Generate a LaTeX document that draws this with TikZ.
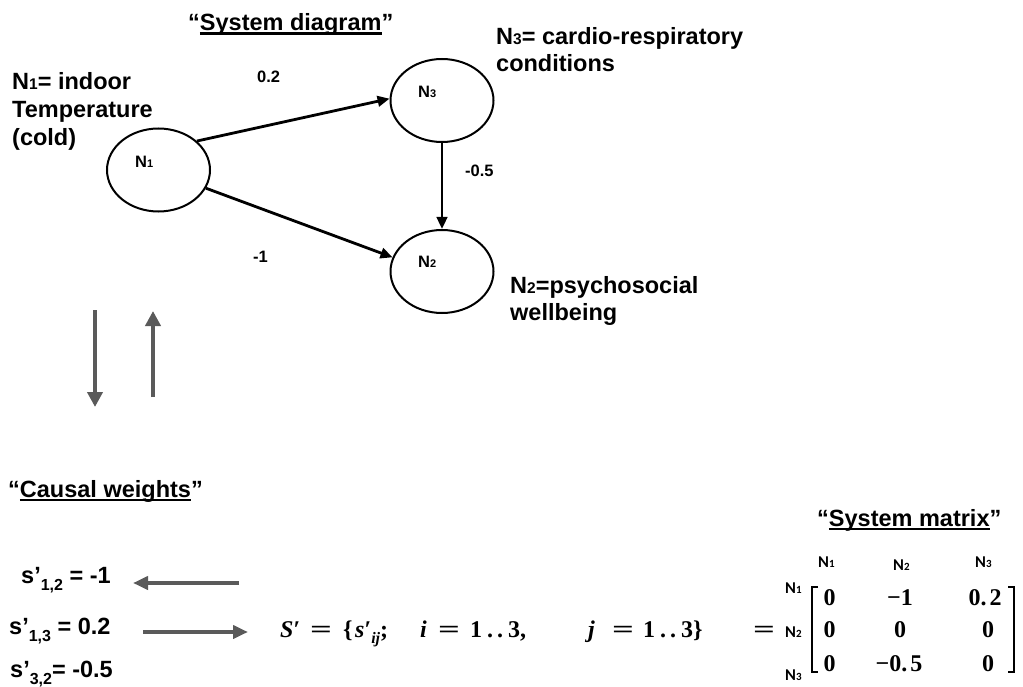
\documentclass[tikz,border=0pt]{standalone}
\usepackage{graphicx}
\usepackage{fontspec}
\setmainfont{Liberation Sans}
\newfontfamily\calfont{Carlito}
\newfontfamily\mserif{Liberation Serif}
\usetikzlibrary{arrows.meta,shapes.geometric}
\definecolor{arrgray}{HTML}{5A5A5A}
\newcommand{\smd}[2]{{\fontsize{#1}{#1}\selectfont #2}}
\newsavebox{\myulbox}
\newcommand{\ulw}[1]{\sbox{\myulbox}{#1}\rlap{\rule[-4pt]{\wd\myulbox}{2.5pt}}\usebox{\myulbox}}
\newcommand{\weq}{\scalebox{1.6}[1]{=}}
\newcommand{\myrange}{1\hspace{5pt}.\hspace{4pt}.\hspace{5pt}3}
\begin{document}
\begin{tikzpicture}[x=1pt,y=-1pt,
  txt/.style={inner sep=0pt, anchor=base west, font=\fontsize{23.5}{28}\selectfont\bfseries},
  small/.style={inner sep=0pt, anchor=base west, font=\fontsize{16.5}{20}\selectfont\bfseries},
  nodeell/.style={draw, ellipse, line width=2pt, minimum width=103pt, minimum height=83pt, inner sep=0pt},
  edge/.style={line width=2.8pt, -{Triangle[length=12pt,width=10.5pt]}},
  grayarr/.style={draw=arrgray, line width=4.5pt, -{Triangle[length=15pt,width=15pt]}},
  grayarrh/.style={draw=arrgray, line width=4pt, -{Triangle[length=15pt,width=13pt]}},
  mathtxt/.style={inner sep=0pt, font=\mserif\fontsize{24}{28}\selectfont\bfseries},
  matlab/.style={inner sep=0pt, anchor=base west, font=\calfont\fontsize{16.5}{20}\selectfont\bfseries},
  brack/.style={line width=2pt}
]
\useasboundingbox (0,0) rectangle (1023,687);

% ---- System diagram ----
\node[txt] (title1) at (188,31) {“\ulw{System diagram}”};

\node[nodeell] (n1) at (158.5,170) {};
\node[nodeell] (n3) at (442,100.5) {};
\node[nodeell] (n2) at (442,271.5) {};

\node[small] (n1t) at (135,168) {N\smd{11}{1}};
\node[small] (n3t) at (418,98) {N\smd{11}{3}};
\node[small] (n2t) at (418,268) {N\smd{11}{2}};

\draw[edge] (n1.37) -- (n3.178);
\draw[edge] (n1.-21) -- (n2.164);
\draw[edge] (n3.south) -- (n2.north);

\node[small] (w13) at (257,83) {0.2};
\node[small] (w12) at (253,262) {-1};
\node[small] (w32) at (465,177) {-0.5};

\node[txt] (l1a) at (12,90) {N\smd{15.5}{1}= indoor};
\node[txt] (l1b) at (12,118) {Temperature};
\node[txt] (l1c) at (12,146) {(cold)};

\node[txt] (l3a) at (496,45) {N\smd{15.5}{3}= cardio-respiratory};
\node[txt] (l3b) at (496,72) {conditions};

\node[txt] (l2a) at (510,293) {N\smd{15.5}{2}=psychosocial};
\node[txt] (l2b) at (510,320) {wellbeing};

% ---- vertical gray arrows ----
\coordinate (dA) at (95,310);
\coordinate (dB) at (95,407);
\coordinate (uA) at (153,397);
\coordinate (uB) at (153,311);
\draw[grayarr] (dA) -- (dB);
\draw[grayarr] (uA) -- (uB);

% ---- Causal weights ----
\node[txt] (title2) at (8,497) {“\ulw{Causal weights}”};

\node[txt] (s12) at (21,583) {s’\raisebox{-7pt}{\smd{16}{1,2}} = -1};
\node[txt] (s13) at (9,634) {s’\raisebox{-7pt}{\smd{16}{1,3}} = 0.2};
\node[txt] (s32) at (10,677) {s’\raisebox{-7pt}{\smd{16}{3,2}}= -0.5};

\coordinate (hA) at (239,583);
\coordinate (hB) at (133,583);
\coordinate (hC) at (143,632);
\coordinate (hD) at (248,632);
\draw[grayarrh] (hA) -- (hB);
\draw[grayarrh] (hC) -- (hD);

\node[mathtxt, anchor=base west] (formula) at (280,637)
  {\makebox[30pt][l]{\textit{S}′}\makebox[33pt][l]{\weq}\makebox[12pt][l]{\{}\makebox[65pt][l]{\textit{s}′\raisebox{-6pt}{\smd{16}{\textit{ij}}};}\makebox[18pt][l]{\textit{i}}\makebox[32pt][l]{\weq}\makebox[118pt][l]{\myrange,}\makebox[24pt][l]{\textit{j}}\makebox[31pt][l]{\weq}\myrange\}};

% ---- System matrix ----
\node[txt] (title3) at (817,526) {“\ulw{System matrix}”};

\node[mathtxt, anchor=base] (eq) at (764,637) {\weq};

\node[matlab] (c1) at (818,567) {N\smd{11}{1}};
\node[matlab] (c2) at (893,570) {N\smd{11}{2}};
\node[matlab] (c3) at (975,567) {N\smd{11}{3}};

\node[matlab] (r1) at (785,593) {N\smd{11}{1}};
\node[matlab] (r2) at (785,637) {N\smd{11}{2}};
\node[matlab] (r3) at (785,680) {N\smd{11}{3}};

\node[mathtxt, anchor=base] (m11) at (829.5,605) {0};
\node[mathtxt, anchor=base] (m12) at (900,605) {−1};
\node[mathtxt, anchor=base] (m13) at (985,605) {0.\hspace{3pt}2};
\node[mathtxt, anchor=base] (m21) at (829.5,637) {0};
\node[mathtxt, anchor=base] (m22) at (900,637) {0};
\node[mathtxt, anchor=base] (m23) at (988,637) {0};
\node[mathtxt, anchor=base] (m31) at (829.5,671) {0};
\node[mathtxt, anchor=base] (m32) at (899,671) {−0.\hspace{3pt}5};
\node[mathtxt, anchor=base] (m33) at (988,671) {0};

\draw[brack] (818,587) -- (812,587) -- (812,672) -- (818,672);
\draw[brack] (1008,587) -- (1014,587) -- (1014,672) -- (1008,672);
\end{tikzpicture}
\end{document}
